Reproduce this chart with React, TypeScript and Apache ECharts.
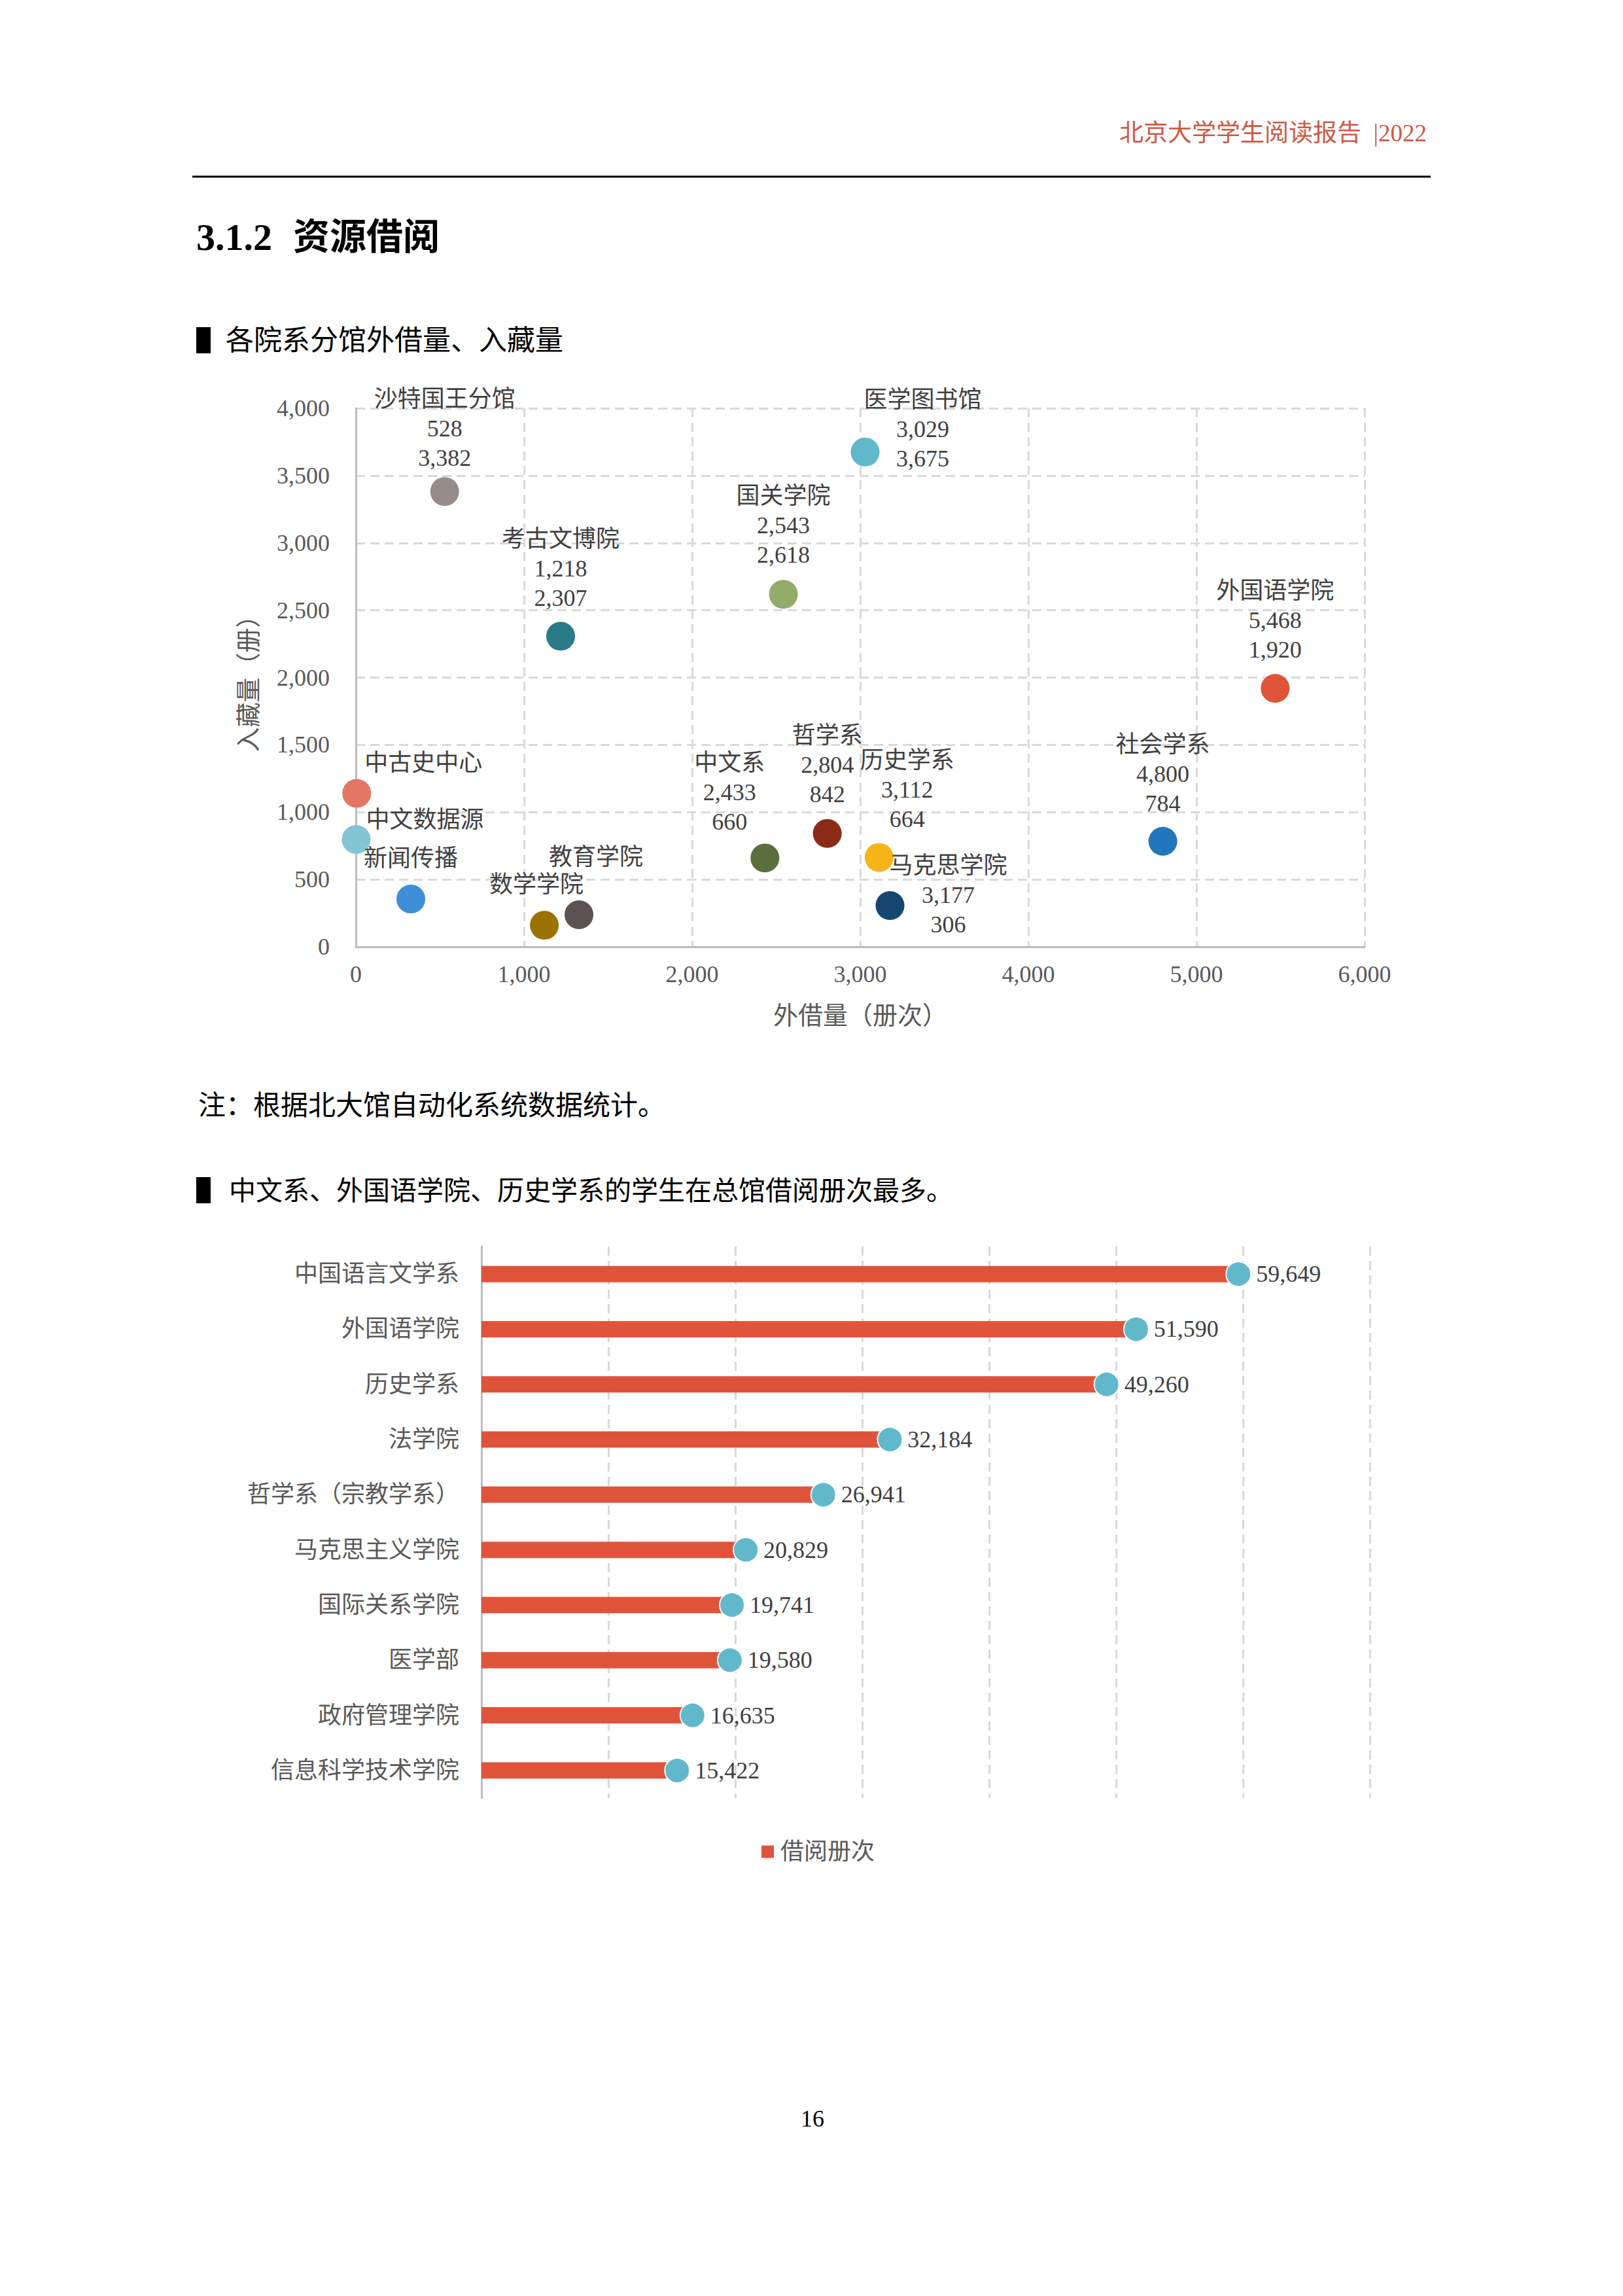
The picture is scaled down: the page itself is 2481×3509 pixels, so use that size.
import React, { useEffect, useRef } from 'react';
import * as echarts from 'echarts';

const FONT = "'Liberation Serif', 'Noto Sans CJK SC', serif";

// ---- Scatter: 各院系分馆外借量、入藏量 ----
const branchNames = ['沙特国王分馆', '医学图书馆', '国关学院', '考古文博院', '外国语学院', '中古史中心', '中文数据源', '新闻传播', '数学学院', '教育学院', '中文系', '哲学系', '历史学系', '马克思学院', '社会学系'];
const branchBorrow = [528, 3029, 2543, 1218, 5468, 5, 2, 327, 1121, 1327, 2433, 2804, 3112, 3177, 4800];
const branchHoldings = [3382, 3675, 2618, 2307, 1920, 1140, 797, 355, 160, 238, 660, 842, 664, 306, 784];
const branchShowValues = [true, true, true, true, true, false, false, false, false, false, true, true, true, true, true];
const branchColors = ['#968c8a', '#62b8cb', '#93ac6a', '#2b7a87', '#e0533b', '#e37763', '#82c6d4', '#3e8fd8', '#9b7100', '#5b5351', '#5a6f3c', '#8c2a18', '#f5b519', '#15466f', '#2277bc'];
// label block centre relative to point centre (layout only)
const branchLabelOffsets = [[0, -96], [88, -35], [0, -105], [0, -103], [0, -104], [102, -46], [105, -30], [0, -62], [-12, -62], [26, -88], [-54, -100], [0, -105], [43, -103], [89, -16], [0, -103]];

// ---- Bar: 总馆借阅册次 ----
const deptNames = ['中国语言文学系', '外国语学院', '历史学系', '法学院', '哲学系（宗教学系）', '马克思主义学院', '国际关系学院', '医学部', '政府管理学院', '信息科学技术学院'];
const deptLoans = [59649, 51590, 49260, 32184, 26941, 20829, 19741, 19580, 16635, 15422];
const seriesName = '借阅册次';

const fmt = (v: number) => Number(v).toLocaleString('en-US');

export default function App() {
  const ref = useRef<HTMLDivElement>(null);
  useEffect(() => {
    if (!ref.current) return;
    const chart = echarts.init(ref.current, null, { renderer: 'svg' });
    const axisLineStyle = { color: '#bfbbbb', width: 3 };
    const gridLineStyle = { type: [14, 8] as any, color: '#d9d9d9', width: 3 };
    const labelStyle = { fontSize: 36, color: '#595959', fontFamily: FONT };
    const option: any = {
      animation: false,
      textStyle: { fontFamily: FONT },
      grid: [
        { left: 544, top: 624, width: 1542, height: 823 },
        { left: 736, top: 1905, width: 1358, height: 843 },
      ],
      xAxis: [
        {
          gridIndex: 0, type: 'value', min: 0, max: 6000, interval: 1000,
          axisLine: { show: true, lineStyle: axisLineStyle }, axisTick: { show: false },
          axisLabel: { ...labelStyle, margin: 24, formatter: (v: number) => fmt(v) },
          splitLine: { show: true, lineStyle: gridLineStyle },
          name: '外借量（册次）', nameLocation: 'middle', nameGap: 86,
          nameTextStyle: { fontSize: 38, color: '#595959', fontFamily: FONT },
        },
        {
          gridIndex: 1, type: 'value', min: 0, max: 70000, interval: 10000,
          axisLine: { show: false }, axisTick: { show: false }, axisLabel: { show: false },
          splitLine: { show: true, lineStyle: gridLineStyle },
        },
      ],
      yAxis: [
        {
          gridIndex: 0, type: 'value', min: 0, max: 4000, interval: 500,
          axisLine: { show: true, lineStyle: axisLineStyle }, axisTick: { show: false },
          axisLabel: { ...labelStyle, margin: 40, formatter: (v: number) => fmt(v) },
          splitLine: { show: true, lineStyle: gridLineStyle },
          name: '入藏量（册）', nameLocation: 'middle', nameGap: 145, nameRotate: 90,
          nameTextStyle: { fontSize: 38, color: '#595959', fontFamily: FONT },
        },
        {
          gridIndex: 1, type: 'category', data: deptNames, inverse: true,
          axisLine: { show: true, lineStyle: axisLineStyle }, axisTick: { show: false },
          axisLabel: { ...labelStyle, margin: 34 },
          splitLine: { show: false },
        },
      ],
      legend: {
        data: [seriesName], left: 1159, top: 2807, icon: 'rect', itemWidth: 19, itemHeight: 19,
        textStyle: { fontSize: 36, color: '#595959', fontFamily: FONT, padding: [0, 0, 0, 5] },
      },
      series: [
        {
          type: 'scatter', xAxisIndex: 0, yAxisIndex: 0, symbolSize: 44,
          itemStyle: { opacity: 1 },
          data: branchNames.map((n, i) => ({
            name: n,
            value: [branchBorrow[i], branchHoldings[i]],
            itemStyle: { color: branchColors[i], opacity: 1 },
            label: { offset: branchLabelOffsets[i] },
          })),
          label: {
            show: true, position: 'inside', align: 'center', verticalAlign: 'middle',
            fontSize: 36, lineHeight: 45, color: '#404040', fontFamily: FONT,
            formatter: (p: any) => {
              const i = p.dataIndex;
              return branchShowValues[i]
                ? `${p.name}\n${fmt(branchBorrow[i])}\n${fmt(branchHoldings[i])}`
                : p.name;
            },
          },
          z: 3,
        },
        {
          type: 'bar', name: seriesName, xAxisIndex: 1, yAxisIndex: 1,
          data: deptLoans, barWidth: 25, itemStyle: { color: '#e0533b' },
        },
        {
          type: 'scatter', xAxisIndex: 1, yAxisIndex: 1, symbolSize: 38,
          data: deptLoans.map((v, i) => [v, i]),
          itemStyle: { color: '#62b8cb', borderColor: '#ffffff', borderWidth: 2, opacity: 1 },
          label: {
            show: true, position: 'right', distance: 7, fontSize: 36, color: '#404040', fontFamily: FONT,
            formatter: (p: any) => fmt(p.value[0]),
          },
          z: 4,
        },
      ],
      graphic: [
        { type: 'text', style: { text: '北京大学学生阅读报告\u2002|2022', x: 2181, y: 203, align: 'right', verticalAlign: 'middle', fontSize: 37, fontFamily: FONT, fill: '#cc5a45' } },
        { type: 'line', shape: { x1: 294, y1: 270, x2: 2187, y2: 270 }, style: { stroke: '#000', lineWidth: 3 } },
        { type: 'text', style: { text: '3.1.2', x: 300, y: 362, align: 'left', verticalAlign: 'middle', fontSize: 58, fontWeight: 'bold', fontFamily: FONT, fill: '#000' } },
        { type: 'text', style: { text: '资源借阅', x: 448, y: 362, align: 'left', verticalAlign: 'middle', fontSize: 56, fontWeight: 'bold', fontFamily: FONT, fill: '#000' } },
        { type: 'rect', shape: { x: 300, y: 500, width: 22, height: 40 }, style: { fill: '#000' } },
        { type: 'text', style: { text: '各院系分馆外借量、入藏量', x: 345, y: 520, align: 'left', verticalAlign: 'middle', fontSize: 43, fontFamily: FONT, fill: '#000' } },
        { type: 'text', style: { text: '注：根据北大馆自动化系统数据统计。', x: 303, y: 1690, align: 'left', verticalAlign: 'middle', fontSize: 42, fontFamily: FONT, fill: '#000' } },
        { type: 'rect', shape: { x: 300, y: 1799, width: 22, height: 40 }, style: { fill: '#000' } },
        { type: 'text', style: { text: '中文系、外国语学院、历史学系的学生在总馆借阅册次最多。', x: 350, y: 1820, align: 'left', verticalAlign: 'middle', fontSize: 41, fontFamily: FONT, fill: '#000' } },
        { type: 'text', style: { text: '16', x: 1242, y: 3238, align: 'center', verticalAlign: 'middle', fontSize: 36, fontFamily: FONT, fill: '#000' } },
      ],
    };
    chart.setOption(option);
    return () => chart.dispose();
  }, []);
  return <div ref={ref} style={{ position: 'absolute', left: 0, top: 0, width: 2481, height: 3509, background: '#fff' }} />;
}
